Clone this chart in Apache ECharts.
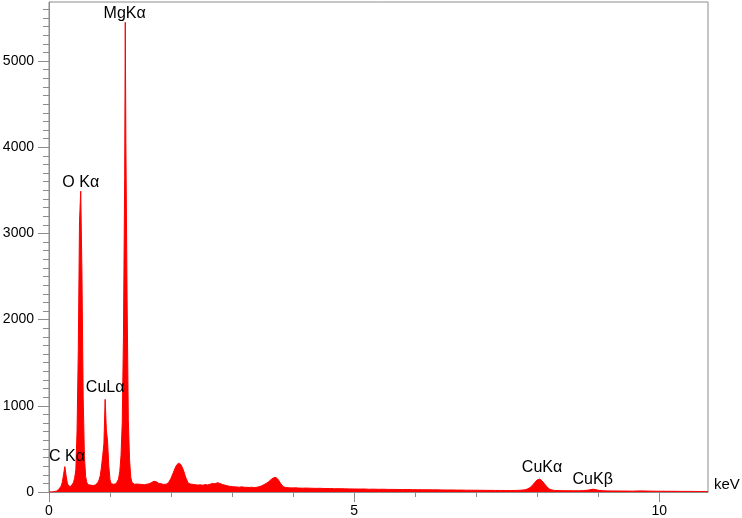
<!DOCTYPE html>
<html>
<head>
<meta charset="utf-8">
<script src="https://cdn.jsdelivr.net/npm/echarts@6/dist/echarts.min.js"></script>
<style>
  html, body { margin: 0; padding: 0; background: #fff; }
  #chart { width: 742px; height: 518px; }
</style>
</head>
<body>
<div id="chart"></div>
<script>
// energy (keV) and counts
const energy = [
  0.00, 0.02, 0.04, 0.06, 0.08, 0.10, 0.12, 0.14, 0.16, 0.18,
  0.20, 0.22, 0.24, 0.26, 0.28, 0.30, 0.32, 0.34, 0.36, 0.38,
  0.40, 0.42, 0.44, 0.46, 0.48, 0.50, 0.52, 0.54, 0.56, 0.58,
  0.60, 0.62, 0.64, 0.66, 0.68, 0.70, 0.72, 0.74, 0.76, 0.78,
  0.80, 0.82, 0.84, 0.86, 0.88, 0.90, 0.92, 0.94, 0.96, 0.98,
  1.00, 1.02, 1.04, 1.06, 1.08, 1.10, 1.12, 1.14, 1.16, 1.18,
  1.20, 1.22, 1.24, 1.25, 1.26, 1.28, 1.30, 1.32, 1.34, 1.36,
  1.38, 1.40, 1.42, 1.44, 1.46, 1.48,
  1.52, 1.56, 1.60, 1.64, 1.68, 1.72, 1.76, 1.80, 1.84, 1.88,
  1.92, 1.96, 2.00, 2.04, 2.08, 2.12, 2.16, 2.20, 2.24, 2.28,
  2.32, 2.36, 2.40, 2.44, 2.48, 2.52, 2.56, 2.60, 2.64, 2.68,
  2.72, 2.76, 2.80, 2.84, 2.88, 2.92, 2.96, 3.00, 3.04, 3.08,
  3.12, 3.16, 3.20, 3.24, 3.28, 3.32, 3.36, 3.40, 3.44, 3.48,
  3.52, 3.56, 3.60, 3.64, 3.68, 3.72, 3.76, 3.80, 3.84, 3.88,
  3.92, 3.96, 4.00, 4.04, 4.08, 4.12, 4.16, 4.20,
  4.28, 4.36, 4.44, 4.52, 4.60, 4.68, 4.76, 4.84, 4.92, 5.00,
  5.08, 5.16, 5.24, 5.32, 5.40, 5.48, 5.56, 5.64, 5.72, 5.80,
  5.88, 5.96, 6.04, 6.12, 6.20, 6.28, 6.36, 6.44, 6.52, 6.60,
  6.68, 6.76, 6.84, 6.92, 7.00, 7.08, 7.16, 7.24, 7.32, 7.40,
  7.48, 7.56, 7.64, 7.72, 7.80, 7.84, 7.88, 7.92, 7.96, 8.00,
  8.04, 8.08, 8.12, 8.16, 8.20, 8.24, 8.28, 8.36, 8.44, 8.52,
  8.60, 8.68, 8.76, 8.84, 8.88, 8.92, 8.96, 9.00, 9.08, 9.16,
  9.24, 9.32, 9.40, 9.48, 9.56, 9.64, 9.72, 9.80, 9.88, 9.96,
  10.04, 10.12, 10.20, 10.28, 10.36, 10.44, 10.52, 10.60, 10.68, 10.76,
  10.80
];
const counts = [
  0, 0, 0, 2, 4, 6, 10, 18, 30, 45,
  70, 120, 210, 295, 190, 105, 70, 60, 65, 85,
  110, 160, 260, 720, 1650, 3140, 3490, 2540, 1110, 420,
  180, 110, 85, 75, 80, 70, 75, 68, 80, 90,
  110, 140, 190, 290, 420, 560, 1075, 720, 590, 300,
  140, 95, 80, 90, 82, 95, 110, 150, 240, 420,
  800, 1800, 3650, 5450, 4040, 2230, 840, 380, 170, 110,
  95, 90, 85, 92, 86, 90,
  88, 84, 90, 95, 110, 125, 118, 100, 95, 88,
  90, 110, 160, 230, 300, 335, 320, 260, 170, 105,
  92, 88, 85, 80, 84, 78, 86, 82, 90, 100,
  95, 108, 100, 88, 80, 72, 66, 62, 60, 58,
  56, 60, 55, 54, 52, 56, 50, 55, 60, 70,
  85, 100, 120, 145, 165, 170, 140, 95, 62, 52,
  50, 48, 47, 50, 46, 45, 44, 46,
  44, 42, 43, 40, 41, 38, 39, 37, 36, 35,
  34, 35, 32, 33, 31, 32, 30, 30, 29, 28,
  29, 27, 27, 26, 26, 25, 25, 24, 23, 24,
  22, 22, 21, 21, 20, 20, 19, 19, 18, 18,
  17, 17, 18, 20, 25, 35, 50, 75, 110, 140,
  150, 130, 95, 60, 35, 24, 18, 16, 15, 15,
  14, 14, 16, 22, 28, 32, 28, 20, 14, 13,
  12, 12, 11, 11, 10, 12, 13, 11, 10, 9,
  9, 8, 8, 8, 7, 7, 7, 6, 6, 6,
  5
];

// peak labels: text, energy (keV), counts at label centre
const peakNames = ['C K\u03b1', 'O K\u03b1', 'CuL\u03b1', 'MgK\u03b1', 'CuK\u03b1', 'CuK\u03b2'];
const peakX = [0.295, 0.52, 0.92, 1.24, 8.08, 8.91];
const peakY = [410, 3595, 1210, 5545, 280, 140];

// tick values
const xMajorTicks = [0, 5, 10];
const xMinorTicks = [1, 2, 3, 4, 6, 7, 8, 9];
const yMajorTicks = [0, 1000, 2000, 3000, 4000, 5000];
const yMinorTicks = [];
for (let v = 0; v <= 5600; v += 100) yMinorTicks.push(v);

const X_MAX = 10.8;
const Y_MAX = 5685;

const chart = echarts.init(document.getElementById('chart'));
const font = '"Liberation Sans", Arial, sans-serif';
const axisGray = '#8c8c8c';

const option = {
  animation: false,
  grid: {
    left: 49, right: 34, top: 2, bottom: 26,
    outerBoundsMode: 'none',
    show: true, borderColor: axisGray, borderWidth: 1
  },
  xAxis: [
    {
      type: 'value', min: 0, max: X_MAX,
      name: 'keV', nameLocation: 'end', nameGap: 6,
      nameTextStyle: { color: '#000', fontSize: 15, fontFamily: font, verticalAlign: 'bottom', padding: [0, 0, 0, 0] },
      axisLine: { show: true, lineStyle: { color: axisGray } },
      axisTick: { show: true, length: 10, customValues: xMajorTicks, lineStyle: { color: axisGray } },
      axisLabel: { customValues: xMajorTicks, color: '#000', fontSize: 14, fontFamily: font, margin: 12 },
      splitLine: { show: false }
    },
    {
      type: 'value', min: 0, max: X_MAX, position: 'bottom',
      axisLine: { show: false },
      axisTick: { show: true, length: 5, customValues: xMinorTicks, lineStyle: { color: axisGray } },
      axisLabel: { show: false },
      splitLine: { show: false }
    }
  ],
  yAxis: [
    {
      type: 'value', min: 0, max: Y_MAX,
      axisLine: { show: true, lineStyle: { color: axisGray } },
      axisTick: { show: true, length: 11, customValues: yMajorTicks, lineStyle: { color: axisGray } },
      axisLabel: {
        customValues: yMajorTicks, color: '#000', fontSize: 14, fontFamily: font, margin: 15,
        formatter: (v) => String(v)
      },
      splitLine: { show: false }
    },
    {
      type: 'value', min: 0, max: Y_MAX, position: 'left',
      axisLine: { show: false },
      axisTick: { show: true, length: 6, customValues: yMinorTicks, lineStyle: { color: axisGray } },
      axisLabel: { show: false },
      splitLine: { show: false }
    }
  ],
  series: [
    {
      type: 'line',
      xAxisIndex: 0, yAxisIndex: 0,
      data: energy.map((e, i) => [e, counts[i]]),
      showSymbol: false,
      lineStyle: { color: '#ff0000', width: 1 },
      areaStyle: { color: '#ff0000', opacity: 1 },
      markPoint: {
        symbol: 'circle', symbolSize: 0,
        label: { show: true, position: 'inside', formatter: '{b}', color: '#000', fontSize: 16, fontFamily: font },
        data: peakNames.map((n, i) => ({ name: n, coord: [peakX[i], peakY[i]] }))
      }
    }
  ]
};

chart.setOption(option);
</script>
</body>
</html>
